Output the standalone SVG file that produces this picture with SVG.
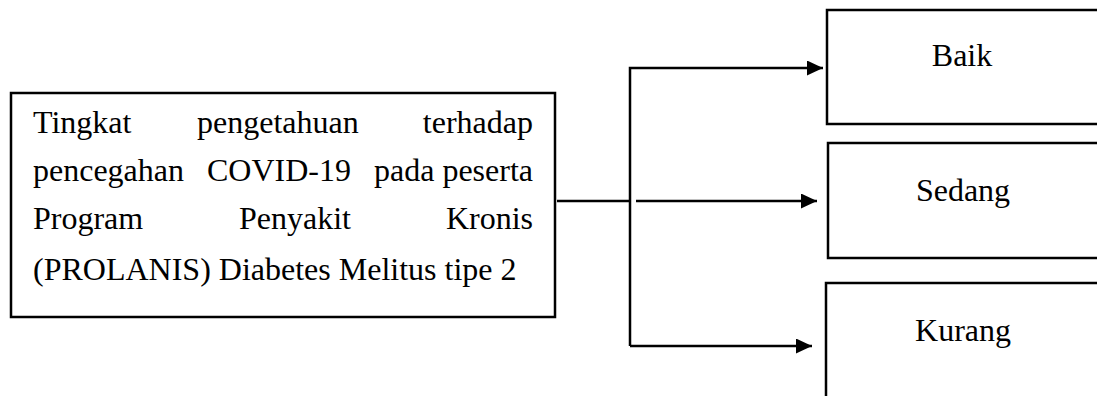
<svg xmlns="http://www.w3.org/2000/svg" width="1097" height="396" viewBox="0 0 1097 396">
<style>
.box{fill:#fff;stroke:#000;stroke-width:2.5}
.t{font-family:"Liberation Serif","Times New Roman",serif;font-size:32px;fill:#000}
.c{text-anchor:middle}
.r{text-anchor:end}
.ln{fill:none;stroke:#000;stroke-width:2.5}
</style>
<defs>
<marker id="ah" markerUnits="userSpaceOnUse" markerWidth="16" markerHeight="15" refX="16" refY="7.5" orient="auto">
<path d="M0,0 L16,7.5 L0,15 z" fill="#000"/>
</marker>
</defs>
<rect width="1097" height="396" fill="#fff"/>
<g id="source">
<rect class="box" x="11" y="93" width="544" height="224"/>
<text class="t" x="33" y="133">Tingkat</text>
<text class="t" x="197" y="133">pengetahuan</text>
<text class="t r" x="533" y="133">terhadap</text>
<text class="t" x="33" y="181">pencegahan</text>
<text class="t" x="207" y="181">COVID-19</text>
<text class="t r" x="533" y="181">pada peserta</text>
<text class="t" x="33" y="229">Program</text>
<text class="t" x="239" y="229">Penyakit</text>
<text class="t r" x="533" y="229">Kronis</text>
<text class="t" x="33" y="280">(PROLANIS) Diabetes Melitus tipe 2</text>
</g>
<g id="baik">
<rect class="box" x="827" y="10" width="290" height="114"/>
<text class="t c" x="962" y="66">Baik</text>
</g>
<g id="sedang">
<rect class="box" x="828" y="143" width="290" height="115"/>
<text class="t c" x="963" y="201">Sedang</text>
</g>
<g id="kurang">
<rect class="box" x="826" y="283" width="290" height="130"/>
<text class="t c" x="963" y="341">Kurang</text>
</g>
<g id="connectors">
<path class="ln" d="M557,201 H630"/>
<path class="ln" d="M630,346 V68 H823" marker-end="url(#ah)"/>
<path class="ln" d="M636,201 H817" marker-end="url(#ah)"/>
<path class="ln" d="M630,346 H812" marker-end="url(#ah)"/>
</g>
</svg>
